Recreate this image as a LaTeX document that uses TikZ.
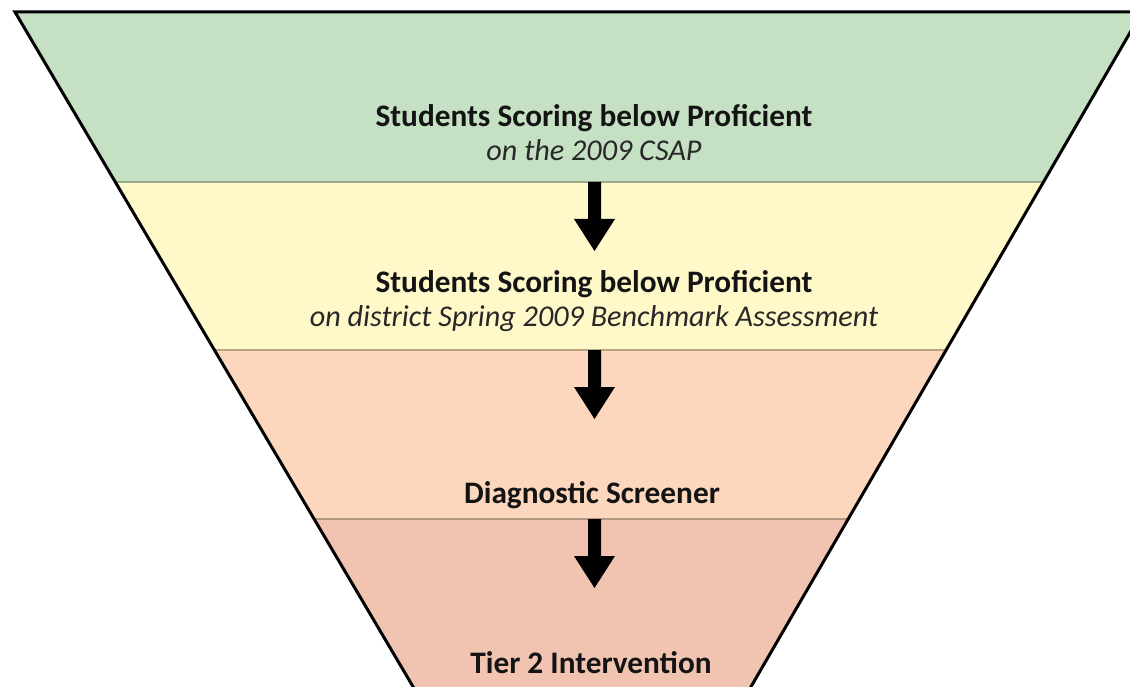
\documentclass[tikz,border=0pt]{standalone}
\usepackage{fontspec}
\setmainfont{Carlito}
\definecolor{greenband}{RGB}{198,224,196}
\definecolor{yellowband}{RGB}{255,248,201}
\definecolor{peachband}{RGB}{252,215,190}
\definecolor{salmonband}{RGB}{241,196,178}
\definecolor{greensep}{RGB}{150,172,140}
\definecolor{yellowsep}{RGB}{185,165,125}
\definecolor{peachsep}{RGB}{180,150,128}
\definecolor{inktext}{RGB}{20,20,20}
\definecolor{subtext}{RGB}{40,40,40}
\begin{document}
\begin{tikzpicture}[x=1pt,y=-1pt,
  outline/.style={line width=3pt,line join=miter,black},
  sepline/.style={line width=2pt},
  title/.style={font=\fontsize{31.3}{36}\selectfont\bfseries,text=inktext,inner sep=0pt,anchor=base},
  subtitle/.style={font=\fontsize{30.2}{36}\selectfont\itshape,text=subtext,inner sep=0pt,anchor=base},
  blockarrow/.style={fill=black}]
\useasboundingbox (0,0) rectangle (1130,687);
\clip (0,0) rectangle (1130,687);

% funnel corners
\coordinate (TL) at (15,12);
\coordinate (TR) at (1142,12);
\coordinate (BL) at (420.9,700);
\coordinate (BR) at (743.3,700);

% colour bands inside the funnel
\begin{scope}
  \clip (TL) -- (TR) -- (BR) -- (BL) -- cycle;
  \fill[greenband]  (0,0)   rectangle (1200,182);
  \fill[yellowband] (0,182) rectangle (1200,350);
  \fill[peachband]  (0,350) rectangle (1200,519);
  \fill[salmonband] (0,519) rectangle (1200,700);
  \draw[sepline,greensep]  (0,182) -- (1200,182);
  \draw[sepline,yellowsep] (0,350) -- (1200,350);
  \draw[sepline,peachsep]  (0,519) -- (1200,519);
\end{scope}

% funnel outline
\draw[outline] (BL) -- (TL) -- (TR) -- (BR);

% stage labels
\node[title]    (csap)    at (594,127) {Students Scoring below Proficient};
\node[subtitle] (csapsub) at (594,161) {on the 2009 CSAP};
\node[title]    (bench)    at (594,292) {Students Scoring below Proficient};
\node[subtitle] (benchsub) at (594,326) {on district Spring 2009 Benchmark Assessment};
\node[title]    (diag)    at (592,503) {Diagnostic Screener};
\node[title]    (tier)    at (591,673) {Tier 2 Intervention};

% block arrows between stages
\coordinate (a1) at (594.5,182);
\coordinate (a2) at (594.5,350);
\coordinate (a3) at (594.5,519);
\foreach \a in {a1,a2,a3}{
  \begin{scope}[shift={(\a)}]
    \fill[blockarrow] (-6.5,0) -- (6.5,0) -- (6.5,37) -- (20.5,37) -- (0,69)
      -- (-20.5,37) -- (-6.5,37) -- cycle;
  \end{scope}
}
\end{tikzpicture}
\end{document}
